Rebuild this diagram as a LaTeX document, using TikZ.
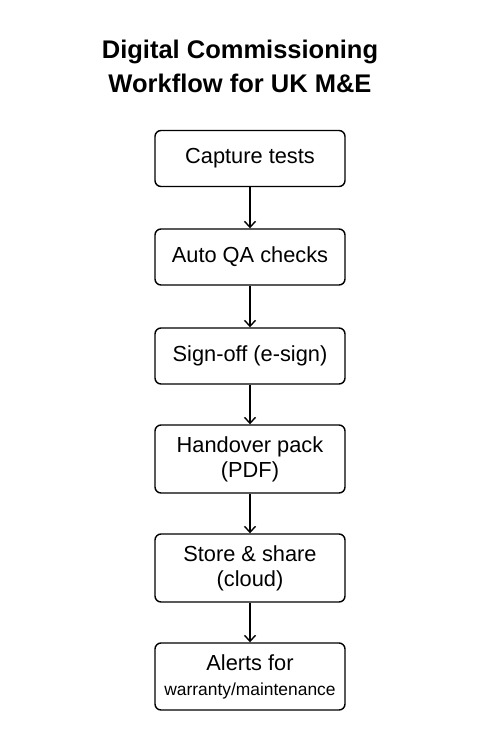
\documentclass[tikz,border=0pt]{standalone}
\usepackage{fontspec}
\setmainfont{Liberation Sans}
\usetikzlibrary{arrows.meta}

\tikzset{stage/.style={draw,line width=1.4pt,rounded corners=6pt,minimum width=190pt,minimum height=56pt,align=center,font=\fontsize{21.8}{25}\selectfont,inner sep=2pt}}

\begin{document}
\begin{tikzpicture}[x=1pt,y=-1pt,>={Straight Barb[length=6pt,width=11pt]}]
\useasboundingbox[fill=white] (0,0) rectangle (500,750);
\node[align=center,font=\fontsize{25.5}{34}\selectfont\bfseries] (title) at (240,66) {Digital Commissioning\\Workflow for UK M\&E};
\node[stage] (capture) at (250,158.5) {Capture tests};
\node[stage] (autoqa) at (250,257) {Auto QA checks};
\node[stage] (signoff) at (250,356) {Sign-off (e-sign)};
\node[stage,minimum height=68pt] (handover) at (250,459) {Handover pack\\(PDF)};
\node[stage,minimum height=68pt] (store) at (250,568) {Store \& share\\(cloud)};
\node[stage,minimum height=67pt] (alerts) at (250,676.5) {Alerts for\\{\fontsize{17.4}{20}\selectfont warranty/maintenance}};
% arrows between the stages
\draw[->,line width=1.4pt] (capture) -- (autoqa);
\draw[->,line width=1.4pt] (autoqa) -- (signoff);
\draw[->,line width=1.4pt] (signoff) -- (handover);
\draw[->,line width=1.4pt] (handover) -- (store);
\draw[->,line width=1.4pt] (store) -- (alerts);
\end{tikzpicture}
\end{document}
